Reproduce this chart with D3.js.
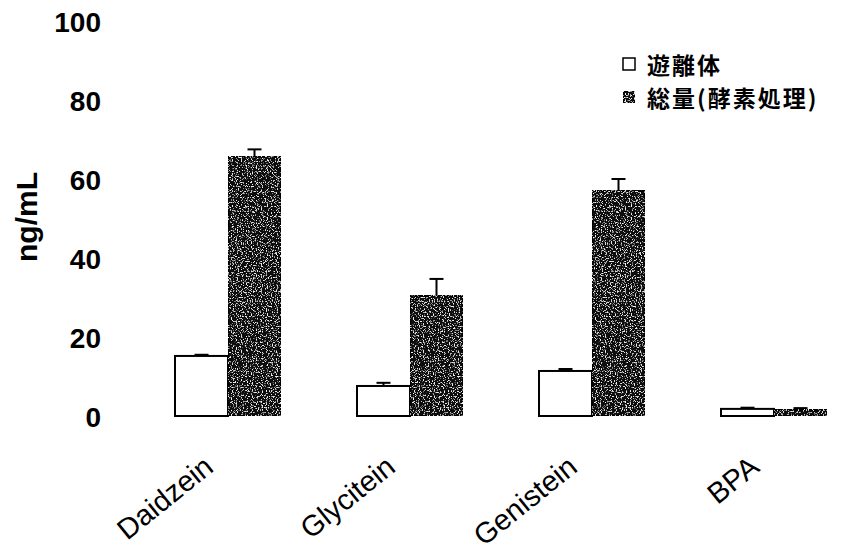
<!DOCTYPE html>
<html>
<head>
<meta charset="utf-8">
<script src="https://cdn.jsdelivr.net/npm/d3@7"></script>
<style>
  body { margin: 0; background: #fff; }
  svg { display: block; }
</style>
</head>
<body>
<div id="chart"></div>
<script>
// data
var categories = ["Daidzein", "Glycitein", "Genistein", "BPA"];
var seriesNames = ["遊離体", "総量(酵素処理)"];
var freeValues = [15.2, 7.6, 11.4, 1.8];
var freeErrors = [0.3, 0.8, 0.5, 0.3];
var totalValues = [65.8, 30.4, 57.0, 1.6];
var totalErrors = [1.7, 4.3, 3.0, 0.4];
var yTicks = [0, 20, 40, 60, 80, 100];

var width = 851;
var height = 557;

var svg = d3.select("#chart")
    .append("svg")
    .attr("width", width)
    .attr("height", height);

// speckled texture for the dark bars
var defs = svg.append("defs");
var f = defs.append("filter").attr("id", "speckle")
    .attr("x", 0).attr("y", 0).attr("width", 1).attr("height", 1);
f.append("feTurbulence")
    .attr("type", "fractalNoise")
    .attr("baseFrequency", 0.8)
    .attr("numOctaves", 2)
    .attr("seed", 4)
    .attr("result", "noise");
f.append("feColorMatrix")
    .attr("in", "noise")
    .attr("type", "matrix")
    .attr("values", "0 0 0 0 0.85  0 0 0 0 0.85  0 0 0 0 0.85  7 0 0 0 -3.9")
    .attr("result", "spots");
f.append("feComposite")
    .attr("in", "spots").attr("in2", "SourceGraphic")
    .attr("operator", "in").attr("result", "clipped");
var merge = f.append("feMerge");
merge.append("feMergeNode").attr("in", "SourceGraphic");
merge.append("feMergeNode").attr("in", "clipped");

var x0 = d3.scaleBand()
    .domain(categories)
    .range([137, 865])
    .paddingInner(76 / 182)
    .paddingOuter(38 / 182);

var x1 = d3.scaleBand()
    .domain(seriesNames)
    .range([0, x0.bandwidth()]);

var y = d3.scaleLinear()
    .domain([0, 100])
    .range([416, 21]);

// y axis, labels only
var yAxis = svg.append("g")
    .attr("transform", "translate(101,0)")
    .call(d3.axisLeft(y).tickValues(yTicks).tickSize(0).tickPadding(0));
yAxis.select(".domain").remove();
yAxis.selectAll("text")
    .attr("font-family", "Liberation Sans, Arial, sans-serif")
    .attr("font-weight", "bold")
    .attr("font-size", 28)
    .attr("fill", "#000")
    .attr("dy", "0.36em");

svg.append("text")
    .attr("transform", "translate(37,217) rotate(-90)")
    .attr("text-anchor", "middle")
    .attr("font-family", "Liberation Sans, Arial, sans-serif")
    .attr("font-weight", "bold")
    .attr("font-size", 30)
    .text("ng/mL");

var rows = categories.map(function(c, i) {
    return [
        {cat: c, s: seriesNames[0], v: freeValues[i], e: freeErrors[i]},
        {cat: c, s: seriesNames[1], v: totalValues[i], e: totalErrors[i]}
    ];
});

var groups = svg.selectAll("g.grp")
    .data(rows)
    .enter().append("g")
    .attr("class", "grp")
    .attr("transform", function(d) { return "translate(" + x0(d[0].cat) + ",0)"; });

// error bars (drawn first so bars sit on top)
groups.selectAll("g.err")
    .data(function(d) { return d; })
    .enter().append("g")
    .attr("class", "err")
    .each(function(d) {
        var g = d3.select(this);
        var cx = x1(d.s) + x1.bandwidth() / 2;
        g.append("line")
            .attr("x1", cx).attr("x2", cx)
            .attr("y1", y(d.v)).attr("y2", y(d.v + d.e))
            .attr("stroke", "#000").attr("stroke-width", 2);
        g.append("line")
            .attr("x1", cx - 7).attr("x2", cx + 7)
            .attr("y1", y(d.v + d.e)).attr("y2", y(d.v + d.e))
            .attr("stroke", "#000").attr("stroke-width", 2);
    });

groups.selectAll("rect")
    .data(function(d) { return d; })
    .enter().append("rect")
    .attr("x", function(d) { return x1(d.s); })
    .attr("y", function(d) { return y(d.v); })
    .attr("width", x1.bandwidth())
    .attr("height", function(d) { return y(0) - y(d.v); })
    .attr("fill", function(d) { return d.s === seriesNames[0] ? "#fff" : "#0a0a0a"; })
    .attr("filter", function(d) { return d.s === seriesNames[0] ? null : "url(#speckle)"; })
    .attr("stroke", "#000")
    .attr("stroke-width", 2);

// category labels
svg.selectAll("text.cat")
    .data(categories)
    .enter().append("text")
    .attr("class", "cat")
    .attr("transform", function(d) {
        return "translate(" + (x0(d) + x0.bandwidth() / 2 - 13) + ",470) rotate(-39)";
    })
    .attr("text-anchor", "end")
    .attr("font-family", "Liberation Sans, Arial, sans-serif")
    .attr("font-size", 29)
    .text(function(d) { return d; });

// legend
var legend = svg.append("g").attr("transform", "translate(623,0)");
var legY = [64, 97];
legend.selectAll("rect")
    .data(seriesNames)
    .enter().append("rect")
    .attr("x", 0)
    .attr("y", function(d, i) { return legY[i] - 6; })
    .attr("width", 12)
    .attr("height", 12)
    .attr("fill", function(d, i) { return i === 0 ? "#fff" : "#0a0a0a"; })
    .attr("filter", function(d, i) { return i === 0 ? null : "url(#speckle)"; })
    .attr("stroke", "#000")
    .attr("stroke-width", 1.5);
legend.selectAll("text")
    .data(seriesNames)
    .enter().append("text")
    .attr("x", 24)
    .attr("y", function(d, i) { return legY[i]; })
    .attr("dominant-baseline", "central")
    .attr("font-family", "Noto Sans CJK JP, sans-serif")
    .attr("font-weight", "bold")
    .attr("font-size", 23)
    .attr("letter-spacing", 2)
    .text(function(d) { return d; });
</script>
</body>
</html>
